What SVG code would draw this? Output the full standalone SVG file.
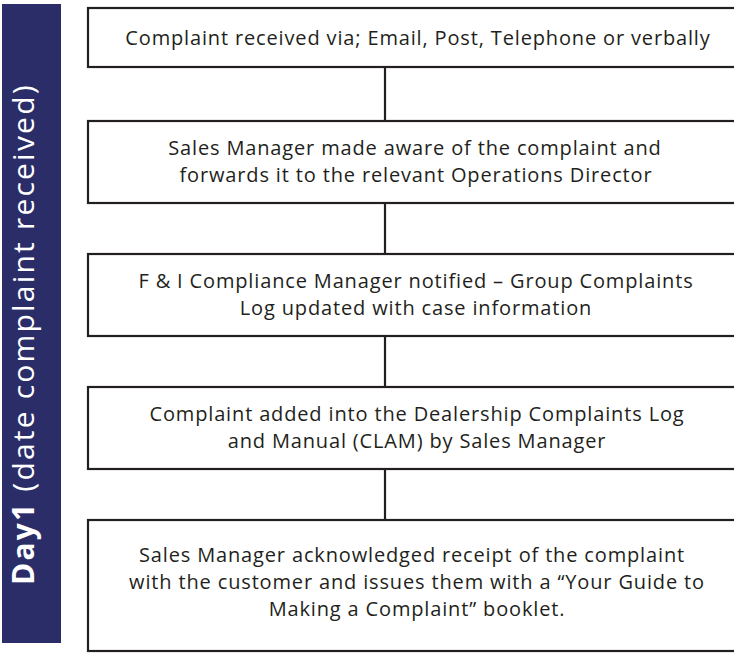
<svg xmlns="http://www.w3.org/2000/svg" width="734" height="653" viewBox="0 0 734 653">
<style>
.box{fill:#fff;stroke:#231f20;stroke-width:2.2}
.t{font-family:"Open Sans","Liberation Sans",sans-serif;font-size:20px;letter-spacing:0.85px;fill:#231f20;text-anchor:middle}
.c{stroke:#231f20;stroke-width:2.2;fill:none}
</style>
<rect width="734" height="653" fill="#fff"/>
<g id="sidebar">
<rect x="2" y="4" width="59" height="639" fill="#2b2d69"/>
<text transform="translate(34,585) rotate(-90)" font-family="Open Sans, Liberation Sans, sans-serif" font-size="30" letter-spacing="2.2" fill="#fff"><tspan font-weight="bold">Day1</tspan> (date complaint received)</text>
</g>
<g id="connectors">
<line class="c" x1="385" y1="67" x2="385" y2="121"/>
<line class="c" x1="385" y1="203" x2="385" y2="254"/>
<line class="c" x1="385" y1="336" x2="385" y2="387"/>
<line class="c" x1="385" y1="469" x2="385" y2="520"/>
</g>
<g id="n1">
<rect class="box" x="88" y="8" width="660" height="59"/>
<text class="t" x="418" y="45">Complaint received via; Email, Post, Telephone or verbally</text>
</g>
<g id="n2">
<rect class="box" x="88" y="121" width="660" height="82"/>
<text class="t" x="415" y="155">Sales Manager made aware of the complaint and</text>
<text class="t" x="416" y="182">forwards it to the relevant Operations Director</text>
</g>
<g id="n3">
<rect class="box" x="88" y="254" width="660" height="82"/>
<text class="t" x="416" y="288">F &amp; I Compliance Manager notified – Group Complaints</text>
<text class="t" x="416" y="315">Log updated with case information</text>
</g>
<g id="n4">
<rect class="box" x="88" y="387" width="660" height="82"/>
<text class="t" x="417" y="421">Complaint added into the Dealership Complaints Log</text>
<text class="t" x="417" y="448">and Manual (CLAM) by Sales Manager</text>
</g>
<g id="n5">
<rect class="box" x="88" y="520" width="660" height="131"/>
<text class="t" x="412" y="562">Sales Manager acknowledged receipt of the complaint</text>
<text class="t" x="417" y="589">with the customer and issues them with a “Your Guide to</text>
<text class="t" x="417" y="616">Making a Complaint” booklet.</text>
</g>
</svg>
